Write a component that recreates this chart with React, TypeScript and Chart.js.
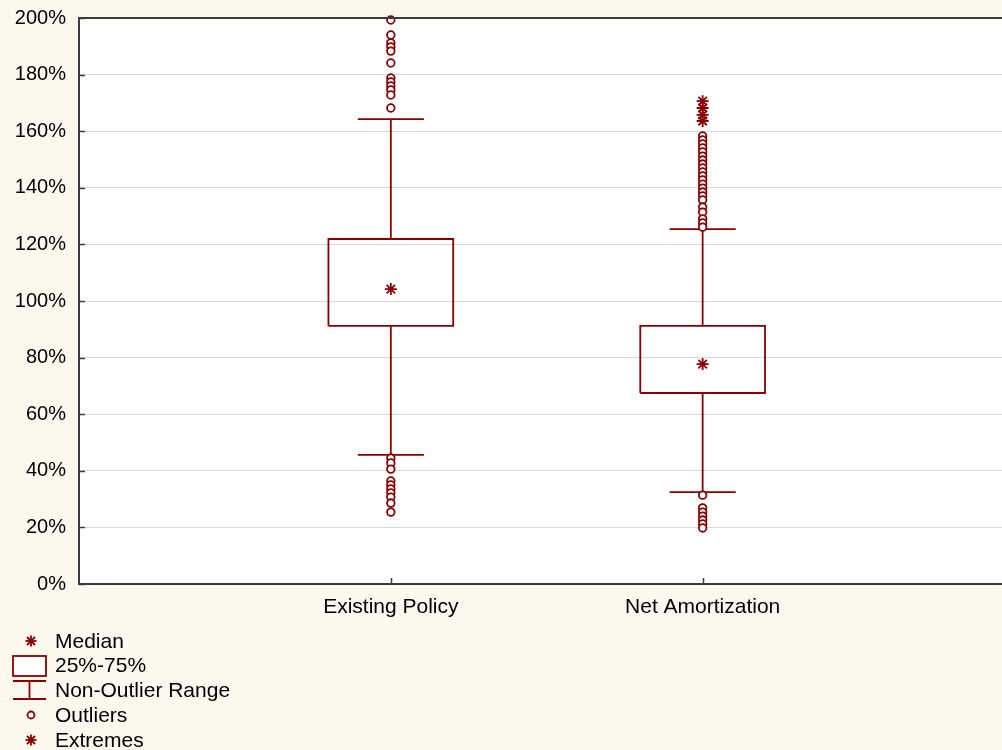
import React, { useEffect, useRef } from 'react';
import { Chart, registerables } from 'chart.js';
Chart.register(...registerables);

const categories = ['Existing Policy', 'Net Amortization'];
const categoryPositions = [1, 2];
const medians = [104.2, 77.7];
const q1Values = [91.2, 67.5];
const q3Values = [121.9, 91.2];
const whiskerLow = [45.6, 32.5];
const whiskerHigh = [164.3, 125.4];
const outliersExisting = [199.3, 194.0, 191.2, 189.8, 188.3, 184.1, 178.8, 177.4, 176.0, 174.6, 172.8, 168.2,
  44.5, 42.8, 40.6, 36.4, 35.0, 33.6, 32.2, 30.7, 28.6, 25.4];
const outliersNet = [158.3, 156.9, 155.5, 154.1, 152.7, 151.2, 149.8, 148.4, 147.0, 145.6, 144.2, 142.8, 141.3,
  139.9, 138.5, 137.1, 135.7, 133.2, 131.4, 129.0, 127.6, 126.1,
  31.4, 26.9, 25.4, 24.0, 22.6, 21.2, 19.8];
const extremesExisting: number[] = [];
const extremesNet = [170.6, 168.2, 165.8, 163.6];
const yMin = 0;
const yMax = 200;
const yStep = 20;
const legendLabels = ['Median', '25%-75%', 'Non-Outlier Range', 'Outliers', 'Extremes'];

const MAROON = '#8b0000';
const AXIS = '#3c3c3c';
const FONT = '"Liberation Sans", Arial, sans-serif';

export default function App() {
  const ref = useRef<HTMLCanvasElement>(null);
  useEffect(() => {
    if (!ref.current) return;
    const boxHalf = 0.2;
    const capHalf = 0.106;
    const outlierSets = [outliersExisting, outliersNet];
    const extremeSets = [extremesExisting, extremesNet];
    const datasets: any[] = [];
    const lineDs = (data: any[]) => ({
      data, showLine: true, borderColor: MAROON, borderWidth: 1.8, pointRadius: 0, fill: false, tension: 0,
    });
    categoryPositions.forEach((p, i) => {
      datasets.push({
        data: extremeSets[i].map((y) => ({ x: p, y })), pointStyle: 'star', pointRadius: 6,
        borderColor: MAROON, borderWidth: 1.8, showLine: false, clip: false,
      });
      datasets.push({
        data: outlierSets[i].map((y) => ({ x: p, y })), pointStyle: 'circle', pointRadius: 3.8,
        borderColor: MAROON, backgroundColor: '#ffffff', borderWidth: 1.8, showLine: false, clip: false,
      });
      datasets.push({
        data: [{ x: p, y: medians[i] }], pointStyle: 'star', pointRadius: 6,
        borderColor: MAROON, borderWidth: 1.8, showLine: false,
      });
    });
    categoryPositions.forEach((p, i) => {
      datasets.push(lineDs([
        { x: p - boxHalf, y: q1Values[i] }, { x: p + boxHalf, y: q1Values[i] },
        { x: p + boxHalf, y: q3Values[i] }, { x: p - boxHalf, y: q3Values[i] },
        { x: p - boxHalf, y: q1Values[i] },
      ]));
      datasets.push(lineDs([{ x: p, y: q3Values[i] }, { x: p, y: whiskerHigh[i] }]));
      datasets.push(lineDs([{ x: p, y: q1Values[i] }, { x: p, y: whiskerLow[i] }]));
      datasets.push(lineDs([{ x: p - capHalf, y: whiskerHigh[i] }, { x: p + capHalf, y: whiskerHigh[i] }]));
      datasets.push(lineDs([{ x: p - capHalf, y: whiskerLow[i] }, { x: p + capHalf, y: whiskerLow[i] }]));
    });

    const framePlugin = {
      id: 'frame',
      beforeDraw(chart: any) {
        const { ctx, chartArea: a } = chart;
        ctx.save();
        ctx.fillStyle = '#ffffff';
        ctx.fillRect(a.left, a.top, a.right - a.left, a.bottom - a.top);
        ctx.restore();
      },
      afterDraw(chart: any) {
        const { ctx, chartArea: a, scales } = chart;
        ctx.save();
        ctx.strokeStyle = AXIS;
        ctx.lineWidth = 2;
        ctx.beginPath();
        ctx.moveTo(a.left - 1, a.top);
        ctx.lineTo(a.right + 2, a.top);
        ctx.stroke();
        ctx.lineWidth = 1.5;
        scales.y.ticks.forEach((t: any) => {
          const y = Math.round(scales.y.getPixelForValue(t.value)) + 0.5;
          ctx.beginPath();
          ctx.moveTo(a.left, y);
          ctx.lineTo(a.left + 6, y);
          ctx.stroke();
        });
        categoryPositions.forEach((p) => {
          const x = Math.round(scales.x.getPixelForValue(p)) + 0.5;
          ctx.beginPath();
          ctx.moveTo(x, a.bottom);
          ctx.lineTo(x, a.bottom - 6);
          ctx.stroke();
        });
        ctx.restore();
      },
    };

    const chart = new Chart(ref.current, {
      type: 'scatter',
      data: { datasets },
      plugins: [framePlugin],
      options: {
        animation: false,
        responsive: false,
        devicePixelRatio: 1,
        layout: { autoPadding: false, padding: { top: 18, left: 0, right: 0, bottom: 0 } },
        plugins: { legend: { display: false }, tooltip: { enabled: false } },
        scales: {
          x: {
            type: 'linear', min: 0, max: 2.96, offset: false,
            afterBuildTicks: (s: any) => { s.ticks = categoryPositions.map((v) => ({ value: v })); },
            afterFit: (s: any) => { s.height = 46; s.paddingLeft = 0; s.paddingRight = 0; },
            grid: { display: false, drawTicks: false },
            border: { display: true, color: AXIS, width: 2 },
            ticks: {
              autoSkip: false, maxRotation: 0, padding: 11, color: '#000',
              font: { family: FONT, size: 21 },
              callback: (v: any) => categories[categoryPositions.indexOf(Number(v))] ?? '',
            },
          },
          y: {
            type: 'linear', min: yMin, max: yMax,
            afterFit: (s: any) => { s.width = 79; s.paddingTop = 0; s.paddingBottom = 0; },
            grid: { color: '#d9d9d9', lineWidth: 1, drawTicks: false },
            border: { display: true, color: AXIS, width: 2 },
            ticks: {
              stepSize: yStep, padding: 13, color: '#000',
              font: { family: FONT, size: 20 },
              callback: (v: any) => `${v}%`,
            },
          },
        },
      },
    });
    return () => chart.destroy();
  }, []);

  const rowY = [641, 665, 690, 715, 740];
  const icon = (i: number) => {
    const c = MAROON;
    if (i === 0 || i === 4) {
      return (
        <g stroke={c} strokeWidth={1.8}>
          <line x1={31} y1={rowY[i] - 5.5} x2={31} y2={rowY[i] + 5.5} />
          <line x1={25.5} y1={rowY[i]} x2={36.5} y2={rowY[i]} />
          <line x1={27} y1={rowY[i] - 4} x2={35} y2={rowY[i] + 4} />
          <line x1={27} y1={rowY[i] + 4} x2={35} y2={rowY[i] - 4} />
        </g>
      );
    }
    if (i === 1) return <rect x={13} y={656} width={33} height={20} fill="#fff" stroke={c} strokeWidth={1.8} />;
    if (i === 2) {
      return (
        <g stroke={c} strokeWidth={1.8}>
          <line x1={13} y1={681} x2={46} y2={681} />
          <line x1={29.5} y1={681} x2={29.5} y2={699} />
          <line x1={13} y1={699} x2={46} y2={699} />
        </g>
      );
    }
    return <circle cx={31} cy={715} r={3.5} fill="#fff" stroke={c} strokeWidth={1.8} />;
  };

  return (
    <div style={{ position: 'absolute', left: 0, top: 0, width: 1002, height: 750, background: '#fdf8ee', overflow: 'hidden' }}>
      <canvas ref={ref} width={1002} height={630} style={{ position: 'absolute', left: 0, top: 0, width: 1002, height: 630 }} />
      <svg width={60} height={750} style={{ position: 'absolute', left: 0, top: 0 }}>
        {legendLabels.map((_, i) => <React.Fragment key={i}>{icon(i)}</React.Fragment>)}
      </svg>
      {legendLabels.map((t, i) => (
        <div key={t} style={{ position: 'absolute', left: 55, top: rowY[i] - 12, height: 24, lineHeight: '24px', fontFamily: FONT, fontSize: 21, color: '#000', whiteSpace: 'nowrap' }}>{t}</div>
      ))}
    </div>
  );
}
